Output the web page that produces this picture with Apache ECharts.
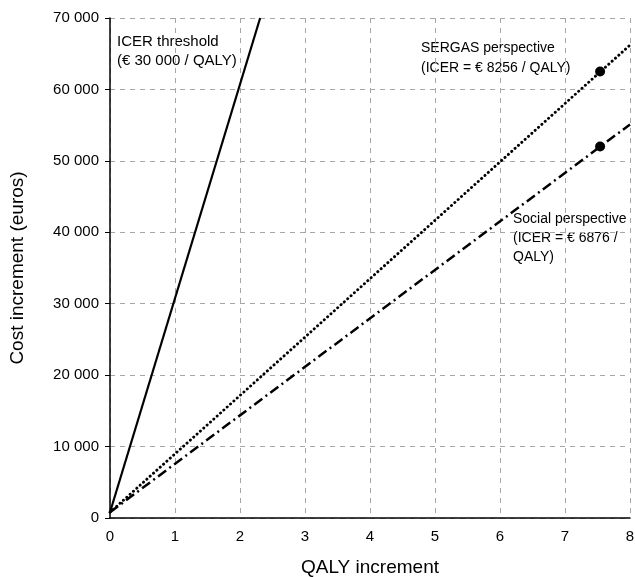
<!DOCTYPE html>
<html>
<head>
<meta charset="utf-8">
<script src="https://cdn.jsdelivr.net/npm/echarts@6/dist/echarts.min.js"></script>
<style>html,body{margin:0;padding:0;background:#fff}#c{width:635px;height:577px}</style>
</head>
<body>
<div id="c"></div>
<script>
const xTicks = [0, 1, 2, 3, 4, 5, 6, 7, 8];
const yTicks = [0, 10000, 20000, 30000, 40000, 50000, 60000, 70000];
const thresholdLine = [[0, 800], [2.31, 70000]];
const sergasLine = [[0, 800], [8, 66200]];
const socialLine = [[0, 800], [8, 55100]];
const resultPoints = [[7.54, 62500], [7.54, 52000]];
const labelThreshold = 'ICER threshold\n(€ 30 000 / QALY)';
const labelSergas = 'SERGAS perspective\n(ICER = € 8256 / QALY)';
const labelSocial = 'Social perspective\n(ICER = € 6876 /\nQALY)';

const font = 'Liberation Sans, Arial, Helvetica, sans-serif';
const chart = echarts.init(document.getElementById('c'));
const fmt = v => String(v).replace(/\B(?=(\d{3})+(?!\d))/g, ' ');
chart.setOption({
  animation: false,
  grid: { left: 110, right: 5, top: 18, bottom: 59, containLabel: false, outerBoundsMode: 'none' },
  xAxis: {
    type: 'value', min: xTicks[0], max: xTicks[xTicks.length - 1], interval: 1,
    name: 'QALY increment', nameLocation: 'middle', nameGap: 40,
    nameTextStyle: { fontFamily: font, fontSize: 19, color: '#000' },
    axisLine: { lineStyle: { color: '#000', width: 1.5 } },
    axisTick: { show: false },
    axisLabel: { fontFamily: font, fontSize: 15, color: '#000', margin: 11 },
    splitLine: { show: true, lineStyle: { color: '#a6a6a6', type: [5, 5], width: 1 } }
  },
  yAxis: {
    type: 'value', min: yTicks[0], max: yTicks[yTicks.length - 1], interval: 10000,
    name: 'Cost increment (euros)', nameLocation: 'middle', nameGap: 83,
    nameTextStyle: { fontFamily: font, fontSize: 19, color: '#000' },
    axisLine: { show: true, lineStyle: { color: '#000', width: 1.5 } },
    axisTick: { show: true, length: 5, lineStyle: { color: '#000' } },
    axisLabel: { fontFamily: font, fontSize: 15, color: '#000', margin: 11, formatter: fmt },
    splitLine: { show: true, lineStyle: { color: '#a6a6a6', type: [5, 5], width: 1 } }
  },
  series: [
    { type: 'line', data: thresholdLine, symbol: 'none', lineStyle: { color: '#000', width: 2.2 } },
    { type: 'line', data: sergasLine, symbol: 'none', lineStyle: { color: '#000', width: 2.9, type: [0.1, 4.4], cap: 'round' } },
    { type: 'line', data: socialLine, symbol: 'none', lineStyle: { color: '#000', width: 2.5, type: [10, 4, 2, 4] } },
    { type: 'scatter', data: resultPoints, symbol: 'circle', symbolSize: 10, itemStyle: { color: '#000', opacity: 1 } }
  ],
  graphic: [
    { type: 'text', left: 117, top: 32, style: { text: labelThreshold, font: '15px ' + font, fill: '#000', lineHeight: 19 } },
    { type: 'text', left: 421, top: 38, style: { text: labelSergas, font: '14px ' + font, fill: '#000', lineHeight: 20 } },
    { type: 'text', left: 513, top: 210, style: { text: labelSocial, font: '14px ' + font, fill: '#000', lineHeight: 19 } }
  ]
});
</script>
</body>
</html>
